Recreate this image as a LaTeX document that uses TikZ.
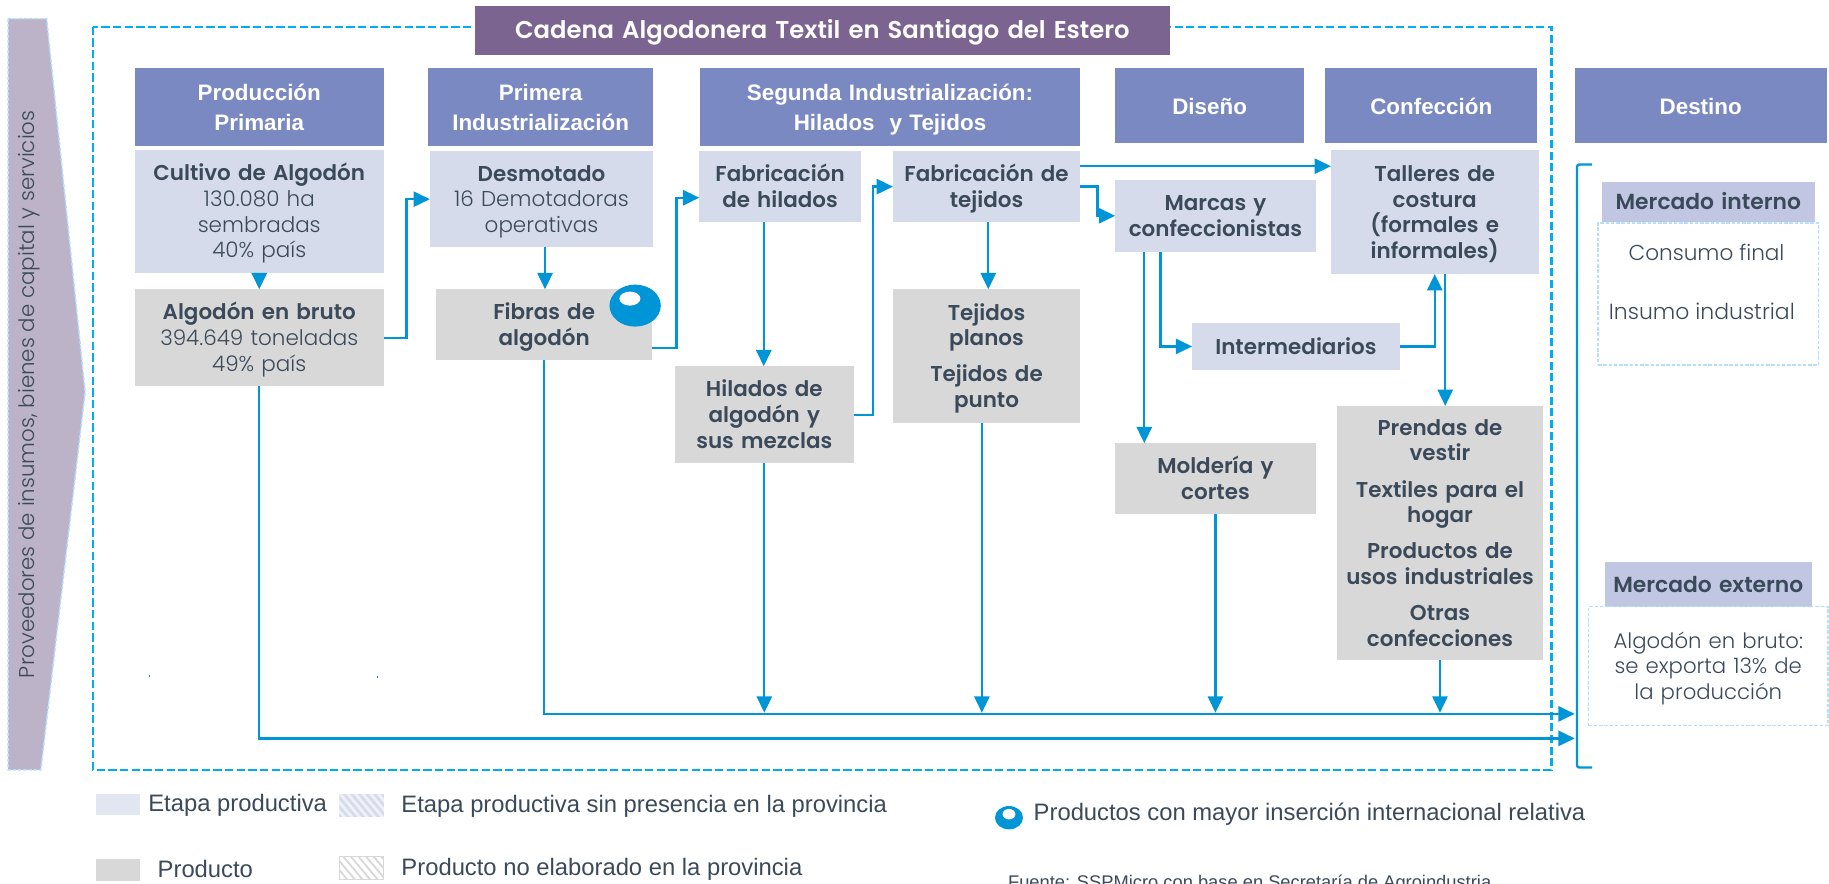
\documentclass[tikz,border=0pt]{standalone}
\usepackage{fontspec}
\setmainfont{Poppins Light}[BoldFont={Poppins SemiBold}]
\newfontfamily\hdfont{Liberation Sans}
\usetikzlibrary{arrows.meta,patterns,patterns.meta,calc,shapes.geometric}
\definecolor{hdblue}{HTML}{7B89C3}
\definecolor{stage}{HTML}{D6DBEB}
\definecolor{prod}{HTML}{D8D8D8}
\definecolor{inktext}{HTML}{3B4A5A}
\definecolor{flow}{HTML}{0095D6}
\definecolor{framec}{HTML}{00AEEF}
\definecolor{mercado}{HTML}{C1C6E3}
\definecolor{lightdash}{HTML}{B5DFFB}
\definecolor{supplier}{HTML}{BDB3C9}
\definecolor{titlec}{HTML}{7C6491}
\newcommand{\bx}[7]{\node[#6,anchor=north west,minimum width={(#4-#3)*1pt},minimum height={(#5-#2)*1pt},text width={(#4-#3)*1pt}] (#1) at (#3,#2) {\rule{0pt}{\dimexpr\ht\strutbox+4.5pt\relax}#7\strut};}
\tikzset{
  x=1pt,y=-1pt,
  base/.style={inner sep=0pt,outer sep=0pt,align=center,text=inktext},
  hdbox/.style={base,fill=hdblue,text=white,font=\hdfont\bfseries\fontsize{19.2}{26}\selectfont},
  stagebox/.style={base,fill=stage,font=\fontsize{18.4}{22}\selectfont},
  prodbox/.style={base,fill=prod,font=\fontsize{18.4}{22}\selectfont},
  mkthead/.style={base,fill=mercado,font=\bfseries\fontsize{18.7}{22}\selectfont},
  mktbody/.style={base,draw=lightdash,line width=1.3pt,dash pattern=on 3pt off 1.5pt,font=\fontsize{18.2}{22}\selectfont},
  flowline/.style={draw=flow,line width=2pt,-{Triangle[length=14pt,width=13pt]}},
  plainline/.style={draw=flow,line width=2pt},
  legtext/.style={inner sep=0pt,anchor=west,text=inktext,font=\hdfont\fontsize{20.4}{22}\selectfont},
}
\begin{document}
\begin{tikzpicture}
\useasboundingbox (0,0) rectangle (1568,757);
% supplier arrow
\filldraw[fill=supplier,draw=lightdash,line width=1.3pt,dash pattern=on 3pt off 1.5pt]
  (7,16) -- (40,16) -- (73,336) -- (35,660) -- (7,660) -- cycle;
\node[rotate=90,inner sep=0pt,text=inktext,font=\fontsize{18.3}{20}\selectfont] (prov) at (25,338) {Proveedores de insumos, bienes de capital y servicios};
% frame
\draw[framec,line width=2pt,dash pattern=on 7pt off 3pt] (80,23) rectangle (1330,660);
\bx{title}{5}{407}{1003}{47}{base,fill=titlec,text=white,font=\bfseries\fontsize{20.8}{24}\selectfont}{Cadena Algodonera Textil en Santiago del Estero}
% headers
\bx{h1}{58}{115.5}{329}{125}{hdbox}{Producción\\Primaria}
\bx{h2}{58}{367}{560}{125}{hdbox}{Primera\\Industrialización}
\bx{h3}{58}{600}{926}{125}{hdbox}{Segunda Industrialización:\\Hilados\ \ y Tejidos}
\bx{h4}{58}{956}{1118}{123}{hdbox}{Diseño}
\bx{h5}{58}{1136}{1318}{123}{hdbox}{Confección}
\bx{h6}{58}{1350}{1566}{123}{hdbox}{Destino}
% stages and products
\bx{cultivo}{128.5}{115.5}{329}{234}{stagebox}{\textbf{Cultivo de Algodón}\\130.080 ha\\sembradas\\40\% país}
\bx{bruto}{248}{115.5}{329}{331}{prodbox}{\textbf{Algodón en bruto}\\394.649 toneladas\\49\% país}
\bx{desmo}{129.5}{368.5}{560}{212}{stagebox}{\textbf{Desmotado}\\16 Demotadoras\\operativas}
\bx{fibras}{248}{374}{559}{309}{prodbox}{\textbf{Fibras de}\\\textbf{algodón}}
\bx{fabhil}{129.5}{599.5}{738}{190.5}{stagebox}{\textbf{Fabricación}\\\textbf{de hilados}}
\bx{fabtej}{129.5}{765.5}{926}{190.5}{stagebox}{\textbf{Fabricación de}\\\textbf{tejidos}}
\bx{hilados}{314}{578.5}{732}{397}{prodbox}{\textbf{Hilados de}\\\textbf{algodón y}\\\textbf{sus mezclas}}
\bx{tejidos}{248}{765.5}{926}{362.5}{prodbox}{\textbf{Tejidos}\\\textbf{planos}\\[9pt]\textbf{Tejidos de}\\\textbf{punto}}
\bx{marcas}{154}{956}{1128}{216}{stagebox}{\textbf{Marcas y}\\\textbf{confeccionistas}}
\bx{talleres}{129}{1141}{1319}{235}{stagebox}{\textbf{Talleres de}\\\textbf{costura}\\\textbf{(formales e}\\\textbf{informales)}}
\bx{inter}{277}{1022}{1200}{317}{stagebox}{\textbf{Intermediarios}}
\bx{molde}{380}{956}{1128}{441}{prodbox}{\textbf{Moldería y}\\\textbf{cortes}}
\bx{prendas}{348}{1146}{1323}{566}{prodbox}{\textbf{Prendas de}\\\textbf{vestir}\\[9pt]\textbf{Textiles para el}\\\textbf{hogar}\\[9pt]\textbf{Productos de}\\\textbf{usos industriales}\\[9pt]\textbf{Otras}\\\textbf{confecciones}}
% destination
\bx{mi}{156}{1373}{1556}{190}{mkthead}{Mercado interno}
\bx{mibody}{191}{1370}{1559}{313}{mktbody}{}
\node[base,font=\fontsize{18.5}{22}\selectfont] (consumo) at (1463,216) {Consumo final};
\node[base,font=\fontsize{18.8}{22}\selectfont] (insumo) at (1459,267) {Insumo industrial};
\bx{me}{482}{1376}{1553}{520}{mkthead}{Mercado externo}
\bx{mebody}{520}{1362}{1567}{622}{mktbody}{Algodón en bruto:\\se exporta 13\% de\\la producción}
% free ends
\coordinate (d1) at (1350,612);
\coordinate (d2) at (1350,633);
\coordinate (bt) at (1365,141);
\coordinate (bb) at (1365,658);
\coordinate (bx) at (1352,400);
% connectors
\draw[flowline] (cultivo.south) -- (bruto.north);
\draw[flowline] (bruto.east) -- ++(19.5,0) |- (desmo.west);
\draw[flowline] ([xshift=3pt]desmo.south) -- ([xshift=3pt]desmo.south |- fibras.north);
\draw[flowline] ([yshift=-20pt]fibras.east) -- ++(21,0) |- ([yshift=-9.5pt]fabhil.west);
\draw[flowline] ([xshift=-14pt]fabhil.south) -- ([xshift=-14pt]fabhil.south |- hilados.north);
\draw[flowline] (hilados.east) -- ++(16.5,0) |- (fabtej.west);
\draw[flowline] ([xshift=1.5pt]fabtej.south) -- ([xshift=1.5pt]fabtej.south |- tejidos.north);
\draw[flowline] ([yshift=17.5pt]fabtej.east) -- ([yshift=17.5pt]fabtej.east -| talleres.west);
\draw[flowline] (fabtej.east) -- ++(15,0) |- (marcas.west);
\draw[flowline] ([xshift=-61pt]marcas.south) -- ([xshift=-61pt]marcas.south |- molde.north);
\draw[flowline] ([xshift=-47pt]marcas.south) |- (inter.west);
\draw[flowline] (inter.east) -| (talleres.south);
\draw[flowline] ([xshift=9pt]talleres.south) -- ([xshift=9pt]talleres.south |- prendas.north);
\draw[flowline] (fibras.south) |- (d1);
\draw[flowline] (bruto.south) |- (d2);
\draw[flowline,shorten >=1pt] (hilados.south) -- (hilados.south |- d1);
\draw[flowline,shorten >=1pt] ([xshift=-4pt]tejidos.south) -- ([xshift=-4pt]tejidos.south |- d1);
\draw[flowline,shorten >=1pt] (molde.south) -- (molde.south |- d1);
\draw[flowline,shorten >=1pt] (prendas.south) -- (prendas.south |- d1);
\draw[plainline,rounded corners=2pt] (bt) -- (bt -| bx) -- (bb -| bx) -- (bb);
% oval markers
\fill[flow] (544.5,262) ellipse (22 and 18);
\fill[white] (540,256) ellipse (9 and 6);
\fill[flow] (865,701) ellipse (12 and 10);
\fill[white] (865,698) ellipse (5.5 and 4.5);
% specks
\fill[flow] (128,578.5) rectangle (129,580.5);
\fill[flow] (323,579.5) rectangle (324,581.5);
% legend
\fill[stage!70!white] (82,681) rectangle (120,699);
\node[legtext] (l1) at (127,690) {Etapa productiva};
\fill[stage!40!white] (291,681) rectangle (329,700);
\fill[pattern={Lines[angle=-50,distance=5pt,line width=2.4pt]},pattern color=stage] (291,681) rectangle (329,700);
\node[legtext] (l2) at (344,691) {Etapa productiva sin presencia en la provincia};
\fill[prod] (82,736) rectangle (120,755);
\node[legtext] (l3) at (135,745) {Producto};
\draw[prod,line width=1pt,pattern={Lines[angle=-50,distance=5pt,line width=1.6pt]},pattern color=prod] (291,734) rectangle (329,754);
\node[legtext] (l4) at (344,745) {Producto no elaborado en la provincia};
\node[legtext] (l5) at (886,698) {Productos con mayor inserción internacional relativa};
\node[inner sep=0pt,anchor=base west,text=inktext,font=\hdfont\fontsize{15.7}{18}\selectfont] (src) at (864,762) {Fuente: SSPMicro con base en Secretaría de Agroindustria};
\end{tikzpicture}
\end{document}
